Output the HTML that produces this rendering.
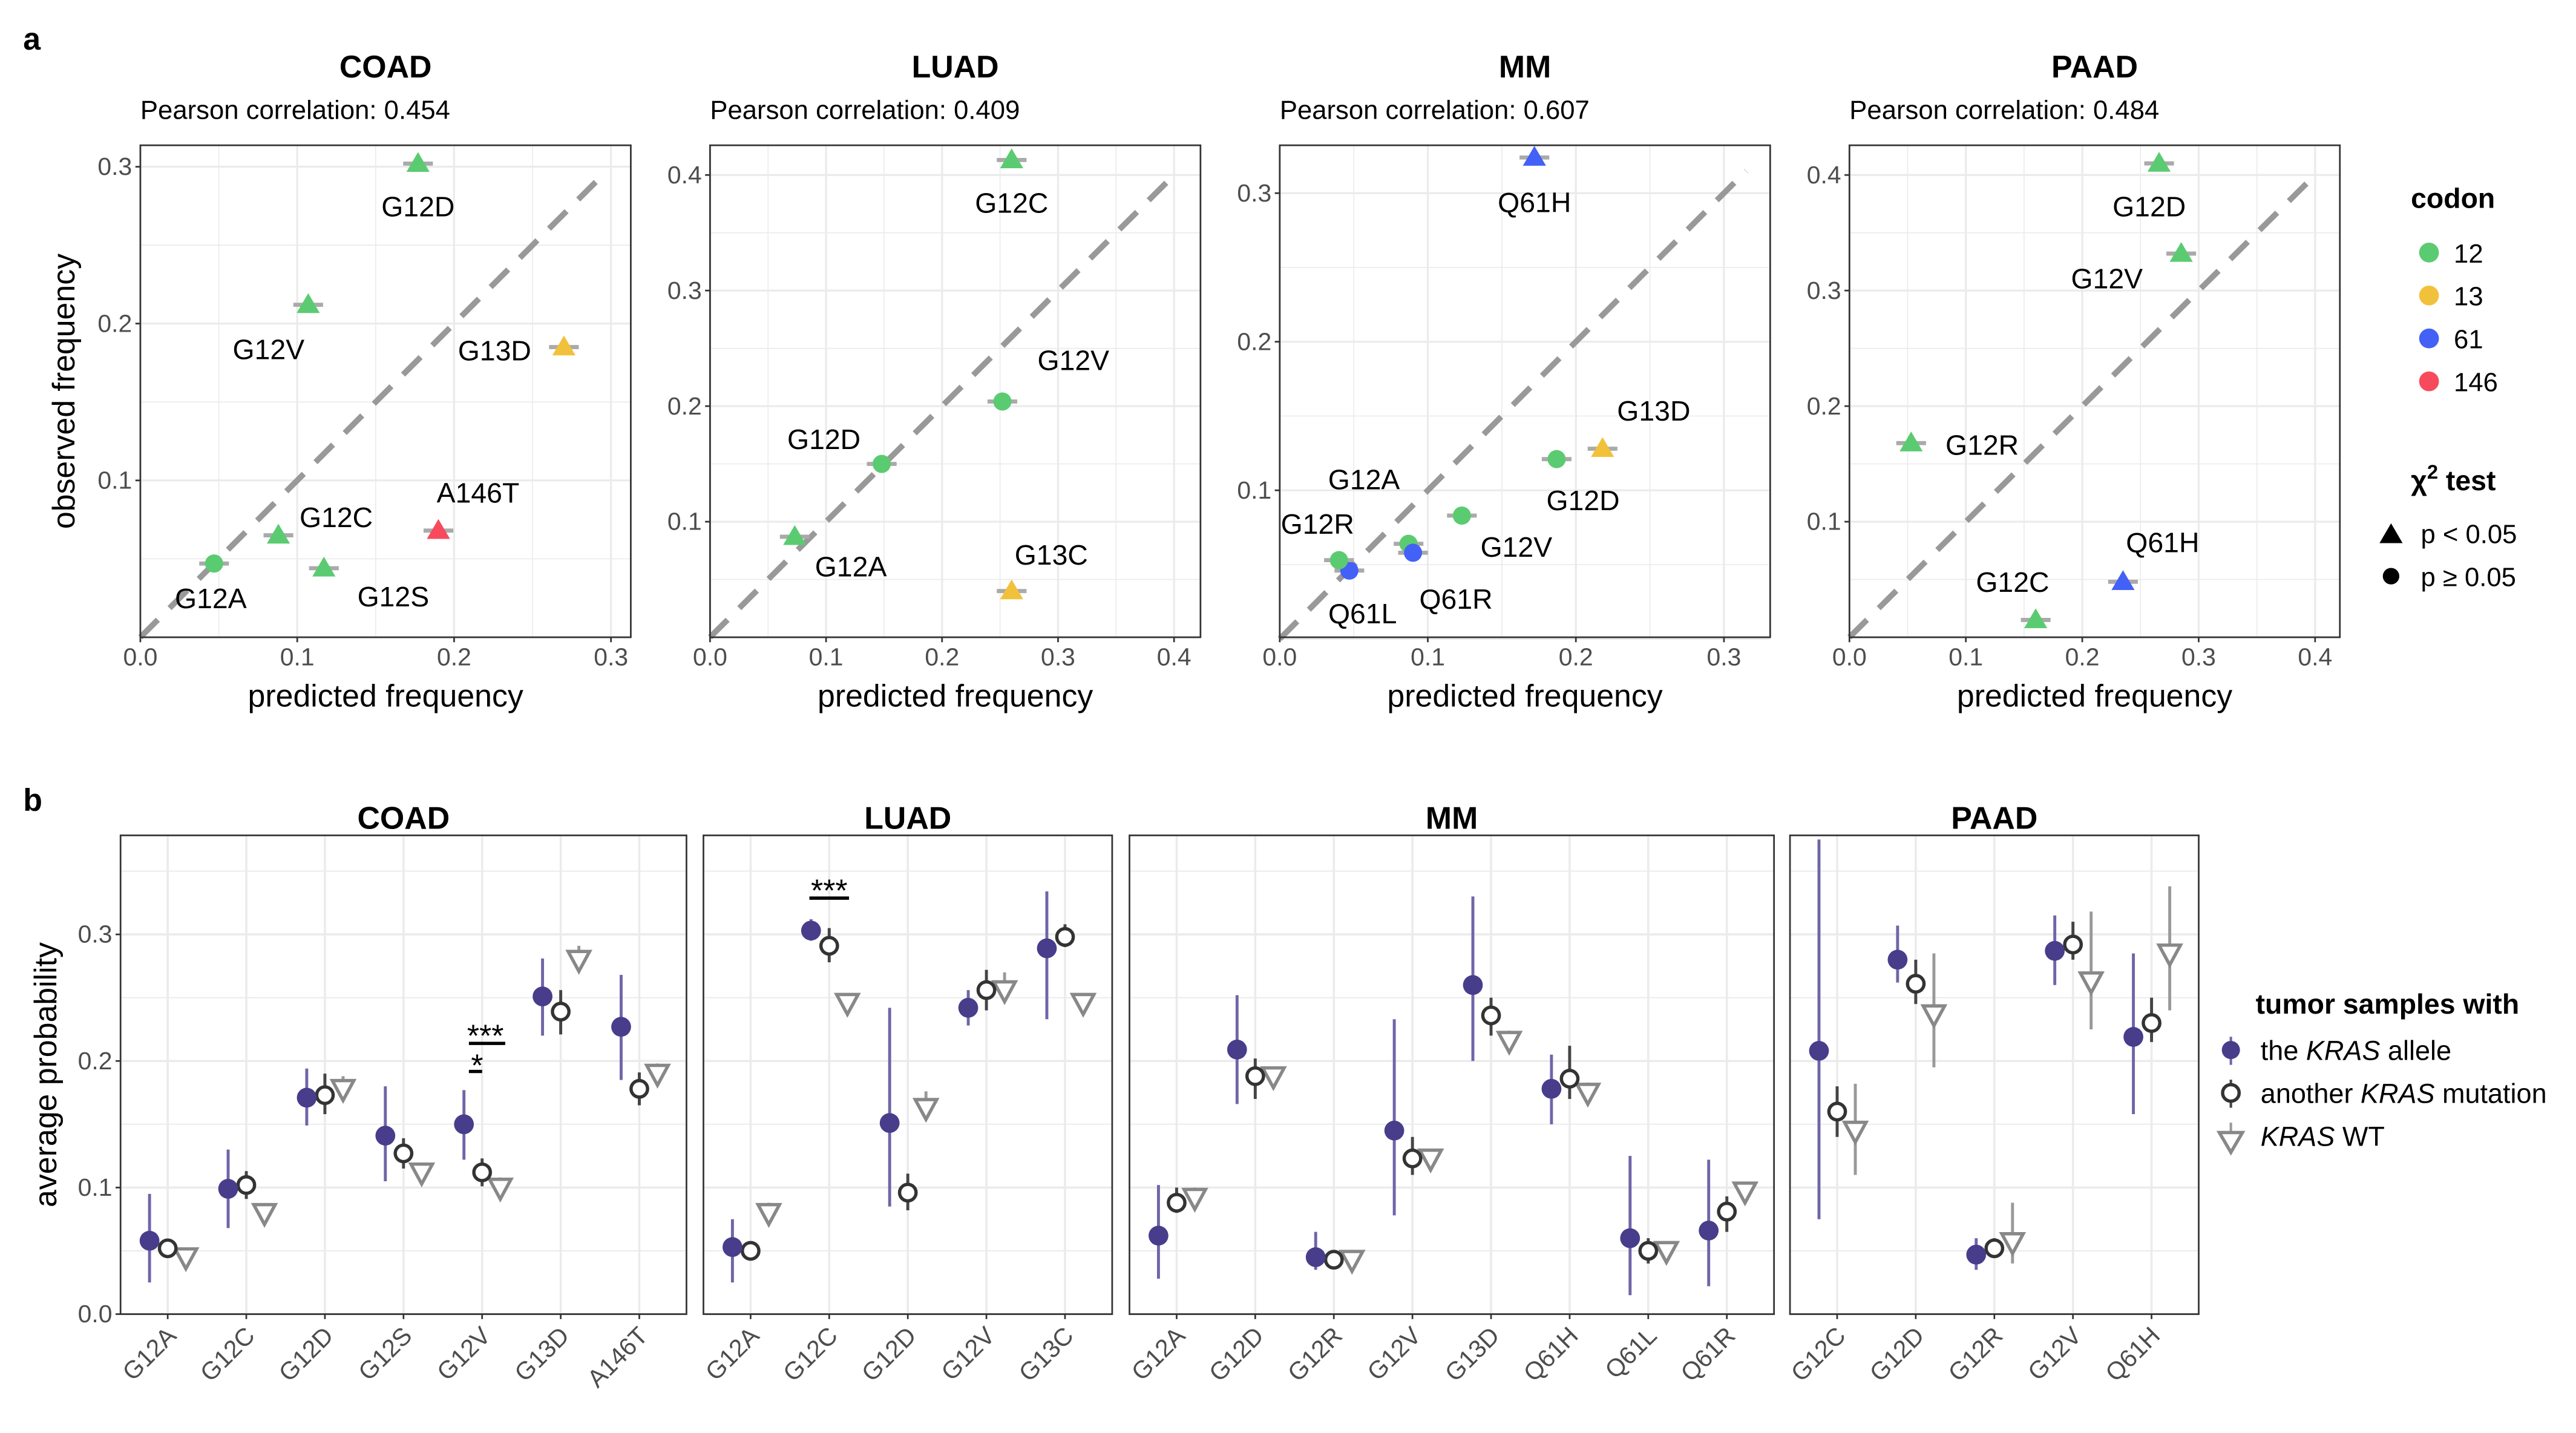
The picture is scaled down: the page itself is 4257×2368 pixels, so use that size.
<!DOCTYPE html>
<html><head><meta charset="utf-8">
<style>
html,body{margin:0;padding:0;background:#fff;}
svg{display:block;font-family:"Liberation Sans",Arial,sans-serif;}
</style></head>
<body>
<svg id="fig" width="4257" height="2368" viewBox="0 0 1560 868" preserveAspectRatio="none" xmlns="http://www.w3.org/2000/svg">
<rect x="0" y="0" width="1560" height="868" fill="#fff"/>
<text x="14" y="30" font-size="19" font-weight="bold">a</text>
<text x="14" y="491" font-size="19" font-weight="bold">b</text>
<g>
<text x="1460" y="126" font-size="17" font-weight="bold">codon</text>
<circle cx="1471" cy="153" r="6" fill="#5bcb71"/><text x="1486" y="159" font-size="16">12</text>
<circle cx="1471" cy="179" r="6" fill="#f2c13b"/><text x="1486" y="185" font-size="16">13</text>
<circle cx="1471" cy="205" r="6" fill="#4361f6"/><text x="1486" y="211" font-size="16">61</text>
<circle cx="1471" cy="231" r="6" fill="#f74a5c"/><text x="1486" y="237" font-size="16">146</text>
<text x="1460" y="297" font-size="17" font-weight="bold">χ<tspan dy="-7" font-size="12">2</tspan><tspan dy="7"> test</tspan></text>
<polygon points="1441,329 1455,329 1448,317" fill="#000"/><text x="1466" y="329" font-size="16">p &lt; 0.05</text>
<circle cx="1448" cy="349" r="5" fill="#000"/><text x="1466" y="355" font-size="16">p ≥ 0.05</text>
</g>
<g>
<text x="1366" y="614" font-size="17" font-weight="bold">tumor samples with</text>
<line x1="1351" y1="628" x2="1351" y2="645" stroke="#6e66a8" stroke-width="1.5"/><circle cx="1351" cy="636" r="5.5" fill="#483d8b"/>
<text x="1369" y="642" font-size="16.5">the <tspan font-style="italic">KRAS</tspan> allele</text>
<line x1="1351" y1="654" x2="1351" y2="671" stroke="#444" stroke-width="1.5"/><circle cx="1351" cy="662" r="5" fill="#fff" stroke="#333" stroke-width="2"/>
<text x="1369" y="668" font-size="16.5">another <tspan font-style="italic">KRAS</tspan> mutation</text>
<line x1="1351" y1="680" x2="1351" y2="686" stroke="#999" stroke-width="1.5"/><polygon points="1344,686 1358,686 1351,698" fill="#fff" stroke="#888" stroke-width="2"/>
<text x="1369" y="694" font-size="16.5"><tspan font-style="italic">KRAS</tspan> WT</text>
</g>
</svg>
<script>
const NS='http://www.w3.org/2000/svg';
const svg=document.getElementById('fig');
function mk(tag,attrs,parent,txt){const e=document.createElementNS(NS,tag);for(const k in attrs)e.setAttribute(k,attrs[k]);if(txt!==undefined)e.textContent=txt;(parent||svg).appendChild(e);return e;}
const COL={'12':'#5bcb71','13':'#f2c13b','61':'#4361f6','146':'#f74a5c'};

// ---------- Panel a data ----------
const aPanels=['COAD','LUAD','MM','PAAD'];
const aPearson=['0.454','0.409','0.607','0.484'];
const aMax=[0.3,0.4,0.3,0.4];
const aDiagEnd=[0.297,0.4,0.315,0.4];
const coadMut=['G12D','G12V','G13D','A146T','G12C','G12S','G12A'];
const coadPred=[0.177,0.107,0.270,0.190,0.088,0.117,0.047];
const coadObs=[0.302,0.212,0.185,0.068,0.065,0.044,0.047];
const coadCodon=['12','12','13','146','12','12','12'];
const coadSig=[1,1,1,1,1,1,0];
const luadMut=['G12C','G12V','G12D','G12A','G13C'];
const luadPred=[0.260,0.252,0.148,0.073,0.260];
const luadObs=[0.413,0.204,0.150,0.087,0.040];
const luadCodon=['12','12','12','12','13'];
const luadSig=[1,0,0,1,1];
const mmMut=['Q61H','G13D','G12D','G12V','G12A','Q61L','G12R','Q61R'];
const mmPred=[0.172,0.218,0.187,0.123,0.087,0.047,0.040,0.090];
const mmObs=[0.324,0.128,0.121,0.083,0.064,0.046,0.053,0.058];
const mmCodon=['61','13','12','12','12','61','12','61'];
const mmSig=[1,1,0,0,0,0,0,0];
const paadMut=['G12D','G12V','G12R','Q61H','G12C'];
const paadPred=[0.266,0.285,0.053,0.235,0.160];
const paadObs=[0.410,0.332,0.168,0.048,0.015];
const paadCodon=['12','12','12','61','12'];
const paadSig=[1,1,1,1,1];
// label offsets (layout, pixels)
const coadLab=[[0,26],[-24,27],[-42,2],[24,-23],[35,-11],[42,17],[-2,21]];
const luadLab=[[0,26],[43,-25],[-35,-15],[34,18],[24,-22]];
const mmLab=[[0,27],[31,-23],[16,25],[33,19],[-27,-39],[8,26],[-13,-22],[26,28]];
const paadLab=[[-6,26],[-45,15],[43,1],[24,-24],[-14,-23]];
const aMuts=[coadMut,luadMut,mmMut,paadMut],aPred=[coadPred,luadPred,mmPred,paadPred],aObs=[coadObs,luadObs,mmObs,paadObs],aCod=[coadCodon,luadCodon,mmCodon,paadCodon],aSig=[coadSig,luadSig,mmSig,paadSig],aLab=[coadLab,luadLab,mmLab,paadLab];
const aLeft=[85,430,775,1120],aW=297,aTopY=88,aBot=386;
const aX0=[85,430,775,1120],aXK=[950,702.5,896.7,705];
const aY0=[386,386,387,386],aYK=[950,700,900,700];

aPanels.forEach((name,p)=>{
  const L=aLeft[p],R=L+aW;
  const g=mk('g',{});
  
  
  const sx=v=>aX0[p]+v*aXK[p];
  const sy=v=>aY0[p]-v*aYK[p];
  const xTop=(R-aX0[p])/aXK[p], yTop=(aY0[p]-aTopY)/aYK[p];
  const t=mk('text',{x:L+aW/2,y:47,'font-size':19,'font-weight':'bold','text-anchor':'middle'},g,name);
  
  const pc=mk('text',{x:L,y:72,'font-size':16},g,'Pearson correlation: '+aPearson[p]);
  
  for(let k=0;k*0.05<=xTop;k++){const v=k*0.05;
    mk('line',{x1:sx(v),x2:sx(v),y1:aTopY,y2:aBot,stroke:'#ebebeb','stroke-width':k%2==0?1.2:0.6},g);}
  for(let k=0;k*0.05<=yTop;k++){const v=k*0.05;
    mk('line',{x1:L,x2:R,y1:sy(v),y2:sy(v),stroke:'#ebebeb','stroke-width':k%2==0?1.2:0.6},g);}
  const dm=aDiagEnd[p];
  const dl=mk('line',{x1:sx(0),y1:sy(0),x2:sx(dm),y2:sy(dm),stroke:'#999','stroke-width':3.5,'stroke-dasharray':'15 10'},g);
  
  mk('rect',{x:L,y:aTopY,width:aW,height:aBot-aTopY,fill:'none',stroke:'#333','stroke-width':1},g);
  for(let k=0;k<=Math.round(aMax[p]*10);k++){const v=k/10;
    mk('line',{x1:sx(v),x2:sx(v),y1:aBot,y2:aBot+3,stroke:'#333'},g);
    mk('text',{x:sx(v),y:aBot+17,'font-size':15,fill:'#4d4d4d','text-anchor':'middle'},g,v.toFixed(1));
    if(k>0){mk('line',{x1:L-3,x2:L,y1:sy(v),y2:sy(v),stroke:'#333'},g);
      mk('text',{x:L-5,y:sy(v)+5,'font-size':15,fill:'#4d4d4d','text-anchor':'end'},g,v.toFixed(1));}
  }
  const xt=mk('text',{x:L+aW/2,y:428,'font-size':19,'text-anchor':'middle'},g,'predicted frequency');
  
  if(p==0){const yt=mk('text',{x:0,y:0,'font-size':19,'text-anchor':'middle',transform:'translate(45,237) rotate(-90)'},g,'observed frequency');
    }
  aMuts[p].forEach((m,i)=>{
    const cx=sx(aPred[p][i]),cy=sy(aObs[p][i]);
    mk('line',{x1:cx-9,x2:cx+9,y1:cy,y2:cy,stroke:'#aaa','stroke-width':2.5},g);
    let pt;
    if(aSig[p][i]) pt=mk('polygon',{points:`${cx-7},${cy+5} ${cx+7},${cy+5} ${cx},${cy-7}`,fill:COL[aCod[p][i]]},g);
    else pt=mk('circle',{cx:cx,cy:cy,r:5.5,fill:COL[aCod[p][i]]},g);
    
    
    const o=aLab[p][i];
    const lb=mk('text',{x:cx+o[0],y:cy+o[1]+6,'font-size':17,'text-anchor':'middle'},g,m);
    
    
  });
});

// ---------- Panel b data ----------
const bPanels=['COAD','LUAD','MM','PAAD'];
const coadCats=['G12A','G12C','G12D','G12S','G12V','G13D','A146T'];
const coadAllele=[0.058,0.099,0.171,0.141,0.150,0.251,0.227];
const coadAlleleLo=[0.025,0.068,0.149,0.105,0.122,0.220,0.185];
const coadAlleleHi=[0.095,0.130,0.194,0.180,0.177,0.281,0.268];
const coadOther=[0.052,0.102,0.173,0.127,0.112,0.239,0.178];
const coadOtherLo=[0.047,0.091,0.158,0.115,0.101,0.221,0.165];
const coadOtherHi=[0.058,0.113,0.190,0.139,0.123,0.256,0.191];
const coadWT=[0.045,0.080,0.178,0.112,0.100,0.280,0.190];
const coadWTHi=[0.049,0.084,0.188,0.117,0.108,0.291,0.198];
const luadCats=['G12A','G12C','G12D','G12V','G13C'];
const luadAllele=[0.053,0.303,0.151,0.242,0.289];
const luadAlleleLo=[0.025,0.295,0.085,0.228,0.233];
const luadAlleleHi=[0.075,0.312,0.242,0.256,0.334];
const luadOther=[0.050,0.291,0.096,0.256,0.298];
const luadOtherLo=[0.046,0.278,0.082,0.240,0.290];
const luadOtherHi=[0.054,0.305,0.111,0.272,0.308];
const luadWT=[0.080,0.246,0.163,0.256,0.246];
const luadWTHi=[0.088,0.252,0.176,0.270,0.252];
const mmCats=['G12A','G12D','G12R','G12V','G13D','Q61H','Q61L','Q61R'];
const mmAllele=[0.062,0.209,0.045,0.145,0.260,0.178,0.060,0.066];
const mmAlleleLo=[0.028,0.166,0.035,0.078,0.200,0.150,0.015,0.022];
const mmAlleleHi=[0.102,0.252,0.065,0.233,0.330,0.205,0.125,0.122];
const mmOther=[0.088,0.188,0.043,0.123,0.236,0.186,0.050,0.081];
const mmOtherLo=[0.080,0.170,0.039,0.110,0.220,0.170,0.040,0.065];
const mmOtherHi=[0.100,0.202,0.047,0.140,0.250,0.212,0.060,0.093];
const mmWT=[0.092,0.188,0.043,0.123,0.216,0.175,0.050,0.097];
const mmWTHi=[0.100,0.193,0.047,0.128,0.224,0.183,0.055,0.103];
const paadCats=['G12C','G12D','G12R','G12V','Q61H'];
const paadAllele=[0.208,0.280,0.047,0.287,0.219];
const paadAlleleLo=[0.075,0.262,0.035,0.260,0.158];
const paadAlleleHi=[0.375,0.307,0.060,0.315,0.285];
const paadOther=[0.160,0.261,0.052,0.292,0.230];
const paadOtherLo=[0.140,0.245,0.045,0.280,0.215];
const paadOtherHi=[0.180,0.280,0.060,0.310,0.250];
const paadWT=[0.145,0.237,0.057,0.263,0.285];
const paadWTLo=[0.110,0.195,0.040,0.225,0.240];
const paadWTHi=[0.182,0.285,0.088,0.318,0.338];
const bYTicks=[0.0,0.1,0.2,0.3];

const bCats=[coadCats,luadCats,mmCats,paadCats];
const bA=[coadAllele,luadAllele,mmAllele,paadAllele],bALo=[coadAlleleLo,luadAlleleLo,mmAlleleLo,paadAlleleLo],bAHi=[coadAlleleHi,luadAlleleHi,mmAlleleHi,paadAlleleHi];
const bO=[coadOther,luadOther,mmOther,paadOther],bOLo=[coadOtherLo,luadOtherLo,mmOtherLo,paadOtherLo],bOHi=[coadOtherHi,luadOtherHi,mmOtherHi,paadOtherHi];
const bW=[coadWT,luadWT,mmWT,paadWT],bWHi=[coadWTHi,luadWTHi,mmWTHi,paadWTHi],bWLo=[null,null,null,paadWTLo];
const bLeft=[73,426,684,1084],unit=47.6,bTop=506,bBot=796;
const yb=v=>bBot-v*766.7;

bPanels.forEach((name,p)=>{
  const cats=bCats[p],L=bLeft[p],W=unit*(cats.length-1+1.2),R=L+W;
  const g=mk('g',{});
  
  
  const xc=i=>L+unit*(0.6+i);
  const t=mk('text',{x:L+W/2,y:502,'font-size':19,'font-weight':'bold','text-anchor':'middle'},g,name);
  
  for(let k=0;k<4;k++){const v=0.05+k*0.1; mk('line',{x1:L,x2:R,y1:yb(v),y2:yb(v),stroke:'#ebebeb','stroke-width':0.7},g);}
  bYTicks.forEach(v=>mk('line',{x1:L,x2:R,y1:yb(v),y2:yb(v),stroke:'#ebebeb','stroke-width':1.3},g));
  cats.forEach((c,i)=>mk('line',{x1:xc(i),x2:xc(i),y1:bTop,y2:bBot,stroke:'#ebebeb','stroke-width':1.3},g));
  mk('rect',{x:L,y:bTop,width:W,height:bBot-bTop,fill:'none',stroke:'#333','stroke-width':1},g);
  if(p==0){
    bYTicks.forEach(v=>{mk('line',{x1:L-3,x2:L,y1:yb(v),y2:yb(v),stroke:'#333'},g);
      mk('text',{x:L-5,y:yb(v)+5,'font-size':15,fill:'#4d4d4d','text-anchor':'end'},g,v.toFixed(1));});
    const yt=mk('text',{x:0,y:0,'font-size':19,'text-anchor':'middle',transform:'translate(34,651) rotate(-90)'},g,'average probability');
    
  }
  cats.forEach((c,i)=>{
    const x=xc(i);
    mk('line',{x1:x,x2:x,y1:bBot,y2:bBot+3,stroke:'#333'},g);
    const tl=mk('text',{x:0,y:0,'font-size':15,fill:'#4d4d4d','text-anchor':'end',transform:`translate(${x+6},${bBot+14}) rotate(-45)`},g,c);
    
    const xw=x+11,yw=yb(bW[p][i]);
    const wlo=bWLo[p]?bWLo[p][i]:bW[p][i];
    mk('line',{x1:xw,x2:xw,y1:yb(wlo),y2:yb(bWHi[p][i]),stroke:'#999','stroke-width':1.8},g);
    const tri=mk('polygon',{points:`${xw-6.5},${yw-5} ${xw+6.5},${yw-5} ${xw},${yw+7}`,fill:'#fff',stroke:'#888','stroke-width':2},g);
    
    
    const xo=x,yo=yb(bO[p][i]);
    mk('line',{x1:xo,x2:xo,y1:yb(bOLo[p][i]),y2:yb(bOHi[p][i]),stroke:'#444','stroke-width':1.8},g);
    const oc=mk('circle',{cx:xo,cy:yo,r:5,fill:'#fff',stroke:'#333','stroke-width':2},g);
    
    
    const xa=x-11,ya=yb(bA[p][i]);
    mk('line',{x1:xa,x2:xa,y1:yb(bALo[p][i]),y2:yb(bAHi[p][i]),stroke:'#6e66a8','stroke-width':1.8},g);
    const ac=mk('circle',{cx:xa,cy:ya,r:6,fill:'#483d8b'},g);
    
    
  });
  if(p==0){
    const x=xc(4);
    mk('text',{x:x+2,y:634,'font-size':19,'text-anchor':'middle'},g,'***');
    mk('line',{x1:x-8,x2:x+14,y1:632,y2:632,stroke:'#000','stroke-width':2},g);
    mk('text',{x:x-3,y:652,'font-size':19,'text-anchor':'middle'},g,'*');
    mk('line',{x1:x-8,x2:x,y1:649,y2:649,stroke:'#000','stroke-width':2},g);
  }
  if(p==1){
    const x=xc(1);
    mk('text',{x:x,y:546,'font-size':19,'text-anchor':'middle'},g,'***');
    mk('line',{x1:x-12,x2:x+12,y1:544,y2:544,stroke:'#000','stroke-width':2},g);
  }
});
</script>
</body></html>
